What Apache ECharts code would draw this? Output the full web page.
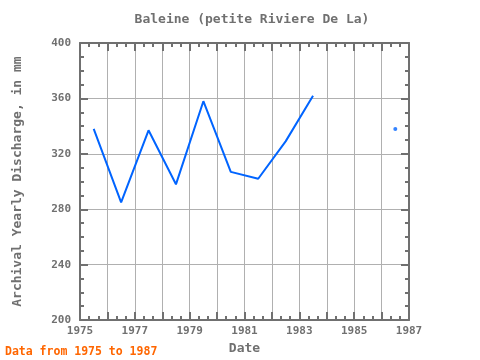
<!DOCTYPE html>
<html>
<head>
<meta charset="utf-8">
<script src="https://cdn.jsdelivr.net/npm/echarts@6/dist/echarts.min.js"></script>
<style>html,body{margin:0;padding:0;background:#fff}#c{width:480px;height:360px}</style>
</head>
<body>
<div id="c"></div>
<script>
var years = [1975.5, 1976.5, 1977.5, 1978.5, 1979.5, 1980.5, 1981.5, 1982.5, 1983.5, 1984.5, 1985.5, 1986.5];
var discharge = [338, 285, 337, 298, 358, 307, 302, 329, 362, null, null, 338];
var xTicks = [1975, 1977, 1979, 1981, 1983, 1985, 1987];
var yTicks = [200, 240, 280, 320, 360, 400];

var lineData = years.map(function (y, i) { return [y, discharge[i]]; });
var isolated = [];
for (var i = 0; i < discharge.length; i++) {
  var prev = i > 0 ? discharge[i - 1] : null;
  var next = i < discharge.length - 1 ? discharge[i + 1] : null;
  if (discharge[i] != null && prev == null && next == null) isolated.push([years[i], discharge[i]]);
}

var gray = '#707070';
var font = 'DejaVu Sans Mono';
var chart = echarts.init(document.getElementById('c'));
var axisCommonX = {
  type: 'value', min: 1975, max: 1987, interval: 1,
  axisLine: { show: true, lineStyle: { color: gray, width: 2 } },
  axisTick: { show: true, inside: true, length: 8, lineStyle: { color: gray, width: 2 } },
  minorTick: { show: true, splitNumber: 3, length: 4, lineStyle: { color: gray, width: 2 } }
};
var axisCommonY = {
  type: 'value', min: 200, max: 400, interval: 40,
  axisLine: { show: true, lineStyle: { color: gray, width: 2 } },
  axisTick: { show: true, inside: true, length: 8, lineStyle: { color: gray, width: 2 } },
  minorTick: { show: true, splitNumber: 4, length: 4, lineStyle: { color: gray, width: 2 } }
};
chart.setOption({
  animation: false,
  title: {
    text: 'Baleine (petite Riviere De La)',
    left: 247, top: 8, textAlign: 'center',
    textStyle: { fontFamily: font, fontSize: 13, fontWeight: 'bold', color: gray }
  },
  graphic: [{
    type: 'text', left: 5, top: 346,
    style: { text: 'Data from 1975 to 1987', fontFamily: font, fontSize: 11.5, fontWeight: 'bold', fill: '#ff6600' }
  }],
  grid: { left: 80, top: 43, right: 71, bottom: 38 },
  xAxis: [
    Object.assign({}, axisCommonX, {
      position: 'bottom',
      name: 'Date', nameLocation: 'middle', nameGap: 21,
      nameTextStyle: { fontFamily: font, fontSize: 13, fontWeight: 'bold', color: gray },
      axisLabel: {
        show: true, margin: 6, fontFamily: font, fontSize: 11, fontWeight: 'bold', color: gray,
        formatter: function (v) { return xTicks.indexOf(v) >= 0 ? String(v) : ''; }
      },
      splitLine: { show: true, lineStyle: { color: '#b0b0b0', width: 1 } }
    }),
    Object.assign({}, axisCommonX, {
      position: 'top', axisLabel: { show: false }, splitLine: { show: false }
    })
  ],
  yAxis: [
    Object.assign({}, axisCommonY, {
      position: 'left',
      name: 'Archival Yearly Discharge, in mm', nameLocation: 'middle', nameGap: 56,
      nameTextStyle: { fontFamily: font, fontSize: 13, fontWeight: 'bold', color: gray },
      axisLabel: {
        show: true, margin: 9, fontFamily: font, fontSize: 11, fontWeight: 'bold', color: gray,
        formatter: function (v) { return yTicks.indexOf(v) >= 0 ? String(v) : ''; }
      },
      splitLine: { show: true, lineStyle: { color: '#b0b0b0', width: 1 } }
    }),
    Object.assign({}, axisCommonY, {
      position: 'right', axisLabel: { show: false }, splitLine: { show: false }
    })
  ],
  series: [
    {
      type: 'line', data: lineData, showSymbol: false, connectNulls: false,
      lineStyle: { color: '#0064ff', width: 2 }, itemStyle: { color: '#0064ff' }
    },
    {
      type: 'scatter', data: isolated, symbol: 'circle', symbolSize: 4,
      itemStyle: { color: '#0064ff' }
    }
  ]
});
</script>
</body>
</html>
